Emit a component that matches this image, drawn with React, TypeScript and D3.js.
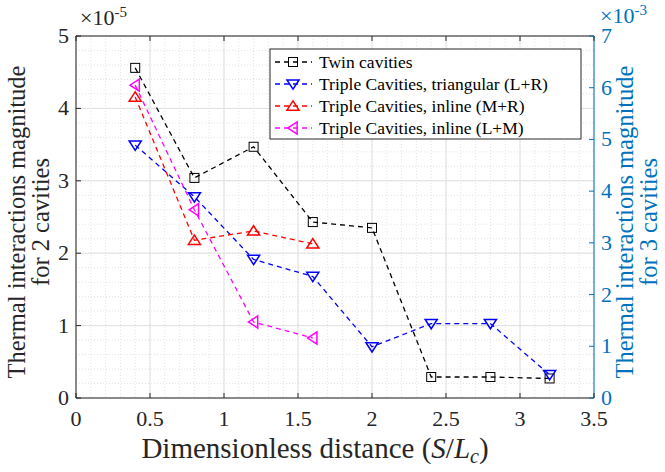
import React from "react";
import * as d3 from "d3";

const W = 665;
const H = 472;
const FONT = "Liberation Serif";
const BLUE_AX = "#0072BD";
const INK = "#262626";

// x positions (S/Lc)
const xTwin = [0.4, 0.8, 1.2, 1.6, 2.0, 2.4, 2.8, 3.2];
const xTri = [0.4, 0.8, 1.2, 1.6, 2.0, 2.4, 2.8, 3.2];
const xInlineMR = [0.4, 0.8, 1.2, 1.6];
const xInlineLM = [0.4, 0.8, 1.2, 1.6];

// left axis (x1e-5)
const twinVals = [4.56, 3.04, 3.47, 2.43, 2.35, 0.29, 0.29, 0.27];
// right axis (x1e-3)
const triVals = [4.89, 3.89, 2.68, 2.35, 0.99, 1.44, 1.44, 0.45];
const inlineMRVals = [5.82, 3.05, 3.23, 2.98];
const inlineLMVals = [6.05, 3.64, 1.47, 1.16];

const xTicks = [0, 0.5, 1, 1.5, 2, 2.5, 3, 3.5];
const yLeftTicks = [0, 1, 2, 3, 4, 5];
const yRightTicks = [0, 1, 2, 3, 4, 5, 6, 7];

const legendLabels = [
  "Twin cavities",
  "Triple Cavities, triangular (L+R)",
  "Triple Cavities, inline (M+R)",
  "Triple Cavities, inline (L+M)",
];

const L = 76, R = 594, T = 36, B = 398;

const x = d3.scaleLinear().domain([0, 3.5]).range([L, R]);
const yL = d3.scaleLinear().domain([0, 5]).range([B, T]);
const yR = d3.scaleLinear().domain([0, 7]).range([B, T]);

type Shape = "square" | "down" | "up" | "left";

const Marker = ({ cx, cy, shape, color }: { cx: number; cy: number; shape: Shape; color: string }) => {
  const s = 5.5;
  if (shape === "square") {
    return <rect x={cx - 4.5} y={cy - 4.5} width={9} height={9} fill="none" stroke={color} strokeWidth={1} />;
  }
  let pts: [number, number][] = [];
  if (shape === "down") pts = [[cx - s * 1.1, cy - s * 0.75], [cx + s * 1.1, cy - s * 0.75], [cx, cy + s * 0.95]];
  if (shape === "up") pts = [[cx - s * 1.1, cy + s * 0.75], [cx + s * 1.1, cy + s * 0.75], [cx, cy - s * 0.95]];
  if (shape === "left") pts = [[cx + s * 0.75, cy - s * 1.1], [cx + s * 0.75, cy + s * 1.1], [cx - s * 0.95, cy]];
  return <polygon points={pts.map((p) => p.join(",")).join(" ")} fill="none" stroke={color} strokeWidth={1.5} />;
};

const series = [
  { xs: xTwin, vs: twinVals, y: yL, color: "#000000", shape: "square" as Shape },
  { xs: xTri, vs: triVals, y: yR, color: "#0000FF", shape: "down" as Shape },
  { xs: xInlineMR, vs: inlineMRVals, y: yR, color: "#FF0000", shape: "up" as Shape },
  { xs: xInlineLM, vs: inlineLMVals, y: yR, color: "#FF00FF", shape: "left" as Shape },
];

const Txt = (props: any) => <text fontFamily={FONT} style={{ fontFamily: FONT }} {...props} />;

export default function App() {
  const line = d3.line<[number, number]>();
  const xMinor = d3.range(0, 3.5001, 0.1);
  const yMinor = d3.range(0, 5.0001, 0.2);
  const yMid = 222;

  return (
    <svg width={W} height={H} fontFamily={FONT} style={{ position: "absolute", left: 0, top: 0 }}>
      <style>{`text, tspan { font-family: "Liberation Serif", serif !important; }`}</style>
      <rect x={0} y={0} width={W} height={H} fill="#fff" />
      {/* minor grid */}
      {xMinor.map((v, i) => (
        <line key={"xm" + i} x1={x(v)} x2={x(v)} y1={T} y2={B} stroke="#dcdcdc" strokeWidth={0.8} strokeDasharray="1,2" />
      ))}
      {yMinor.map((v, i) => (
        <line key={"ym" + i} x1={L} x2={R} y1={yL(v)} y2={yL(v)} stroke="#dcdcdc" strokeWidth={0.8} strokeDasharray="1,2" />
      ))}
      {/* major grid */}
      {xTicks.map((v) => (
        <line key={"xg" + v} x1={x(v)} x2={x(v)} y1={T} y2={B} stroke="#e0e0e0" strokeWidth={1} />
      ))}
      {yLeftTicks.map((v) => (
        <line key={"yg" + v} x1={L} x2={R} y1={yL(v)} y2={yL(v)} stroke="#e0e0e0" strokeWidth={1} />
      ))}

      {/* series */}
      {series.map((s, i) => {
        const pts = s.xs.map((xv, j) => [x(xv), s.y(s.vs[j])] as [number, number]);
        return (
          <g key={i}>
            <path d={line(pts) ?? ""} fill="none" stroke={s.color} strokeWidth={1.3} strokeDasharray="5,4" />
            {pts.map((p, j) => (
              <Marker key={j} cx={p[0]} cy={p[1]} shape={s.shape} color={s.color} />
            ))}
          </g>
        );
      })}

      {/* axes */}
      <line x1={L} x2={R} y1={T} y2={T} stroke={INK} strokeWidth={1} />
      <line x1={L} x2={R} y1={B} y2={B} stroke={INK} strokeWidth={1} />
      <line x1={L} x2={L} y1={T} y2={B} stroke={INK} strokeWidth={1} />
      <line x1={R} x2={R} y1={T} y2={B} stroke={BLUE_AX} strokeWidth={1} />

      {xTicks.map((v) => (
        <g key={"xt" + v}>
          <line x1={x(v)} x2={x(v)} y1={B} y2={B - 5} stroke={INK} />
          <line x1={x(v)} x2={x(v)} y1={T} y2={T + 5} stroke={INK} />
          <Txt x={x(v)} y={B + 28} textAnchor="middle" fontSize={22} fill={INK}>
            {v}
          </Txt>
        </g>
      ))}
      {yLeftTicks.map((v) => (
        <g key={"ylt" + v}>
          <line x1={L} x2={L + 5} y1={yL(v)} y2={yL(v)} stroke={INK} />
          <Txt x={L - 7} y={yL(v) + 7} textAnchor="end" fontSize={22} fill={INK}>
            {v}
          </Txt>
        </g>
      ))}
      {yRightTicks.map((v) => (
        <g key={"yrt" + v}>
          <line x1={R} x2={R - 5} y1={yR(v)} y2={yR(v)} stroke={BLUE_AX} />
          <Txt x={R + 7} y={yR(v) + 7} textAnchor="start" fontSize={22} fill={BLUE_AX}>
            {v}
          </Txt>
        </g>
      ))}

      {/* exponents */}
      <Txt x={80} y={25} fontSize={22} fill={INK}>
        ×10<tspan dy={-8} fontSize={15}>-5</tspan>
      </Txt>
      <Txt x={600} y={23} fontSize={22} fill={BLUE_AX}>
        ×10<tspan dy={-8} fontSize={15}>-3</tspan>
      </Txt>

      {/* axis titles */}
      <Txt x={315} y={458} textAnchor="middle" fontSize={29} fill={INK}>
        Dimensionless distance (<tspan fontStyle="italic">S</tspan>/<tspan fontStyle="italic">L</tspan>
        <tspan fontStyle="italic" fontSize={20} dy={5}>c</tspan>
        <tspan dy={-5}>)</tspan>
      </Txt>
      <g transform={`translate(25, ${yMid}) rotate(-90)`}>
        <Txt x={0} y={0} textAnchor="middle" fontSize={24.5} fill={INK}>Thermal interactions magnitude</Txt>
        <Txt x={0} y={24} textAnchor="middle" fontSize={24.5} fill={INK}>for 2 cavities</Txt>
      </g>
      <g transform={`translate(633, ${yMid}) rotate(-90)`}>
        <Txt x={0} y={0} textAnchor="middle" fontSize={24.5} fill={BLUE_AX}>Thermal interactions magnitude</Txt>
        <Txt x={0} y={24} textAnchor="middle" fontSize={24.5} fill={BLUE_AX}>for 3 cavities</Txt>
      </g>

      {/* legend */}
      <g>
        <rect x={270} y={49} width={311} height={90} fill="#fff" stroke={INK} strokeWidth={1} />
        {series.map((s, i) => {
          const ly = 62 + i * 22;
          return (
            <g key={"lg" + i}>
              <line x1={275} x2={312} y1={ly} y2={ly} stroke={s.color} strokeWidth={1.3} strokeDasharray="5,4" />
              <Marker cx={293} cy={ly} shape={s.shape} color={s.color} />
              <Txt x={319} y={ly + 6} fontSize={17.5} fill="#000">
                {legendLabels[i]}
              </Txt>
            </g>
          );
        })}
      </g>
    </svg>
  );
}
